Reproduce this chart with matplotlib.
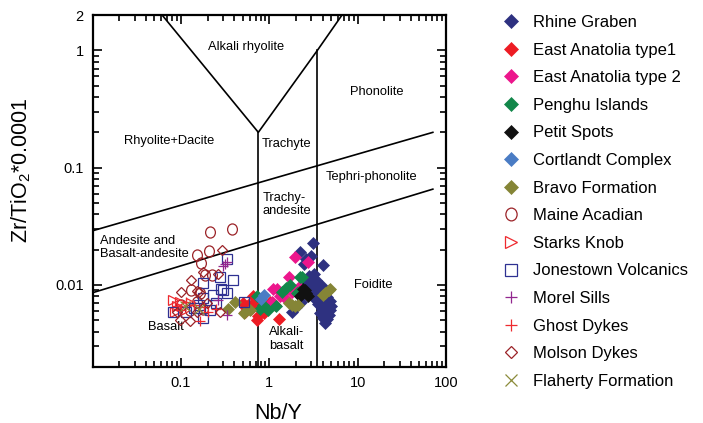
import numpy as np
import matplotlib
matplotlib.use("Agg")
import matplotlib.pyplot as plt
from matplotlib.path import Path
from matplotlib.ticker import FixedLocator, LogLocator, NullFormatter, FixedFormatter

plt.rcParams['font.family'] = ['Liberation Sans', 'DejaVu Sans']
plt.rcParams['mathtext.fontset'] = 'custom'
plt.rcParams['mathtext.rm'] = 'Liberation Sans'
plt.rcParams['mathtext.it'] = 'Liberation Sans:italic'
plt.rcParams['mathtext.default'] = 'regular'

# ---------------- data (Nb/Y, Zr/TiO2*0.0001) ----------------
rhine_x = [3.1, 2.2, 3.0, 2.45, 4.1, 2.6, 2.8, 3.2, 2.5, 3.4, 3.0, 2.7, 3.6, 3.9, 3.3, 2.9, 3.7,
           4.2, 3.1, 3.5, 4.0, 4.5, 3.3, 3.8, 4.3, 4.8, 3.6, 4.1, 4.6, 5.0, 3.9, 4.4, 4.9, 3.7,
           4.2, 4.7, 4.0, 4.5, 4.3, 2.0, 1.8, 2.3, 3.4]
rhine_y = [0.023, 0.019, 0.0175, 0.0152, 0.0148, 0.0165, 0.012, 0.0125, 0.011, 0.011, 0.0105,
           0.0098, 0.0102, 0.0098, 0.0095, 0.0088, 0.009, 0.0088, 0.0082, 0.0083, 0.0082, 0.0079,
           0.0076, 0.0075, 0.0074, 0.0073, 0.0069, 0.0068, 0.0067, 0.0066, 0.0063, 0.0062, 0.0061,
           0.0058, 0.0057, 0.0056, 0.0052, 0.0051, 0.0047, 0.0065, 0.0059, 0.0072, 0.0092]

ea1_x = [0.58, 0.53, 0.72, 0.86, 1.3, 1.02, 0.66, 0.69, 0.6, 0.75, 0.5, 0.62, 0.8, 1.15, 0.55]
ea1_y = [0.0068, 0.0059, 0.005, 0.0058, 0.0051, 0.0072, 0.0081, 0.0072, 0.0066, 0.0054, 0.007,
         0.0062, 0.0066, 0.0068, 0.0064]

ea2_x = [1.96, 2.77, 1.65, 1.11, 1.32, 2.14, 1.11, 1.21, 1.44, 1.07, 1.5, 1.8]
ea2_y = [0.0174, 0.0157, 0.0117, 0.0092, 0.0081, 0.0097, 0.007, 0.0093, 0.0085, 0.0072, 0.0078,
         0.0088]

penghu_x = [2.33, 1.72, 1.38, 0.72, 0.97, 0.78, 2.05, 2.23, 2.14, 0.85, 1.2, 1.55]
penghu_y = [0.0117, 0.010, 0.0088, 0.0081, 0.0061, 0.0063, 0.0085, 0.0117, 0.0088, 0.0068,
            0.0066, 0.0094]

petit_x = [2.55, 2.23, 2.77, 2.4, 2.6]
petit_y = [0.009, 0.0081, 0.0081, 0.0093, 0.0085]

cort_x = [0.86, 0.8]
cort_y = [0.0082, 0.0076]

bravo_x = [0.34, 0.407, 0.51, 1.65, 1.96, 4.3, 4.9, 4.7, 4.1, 1.8, 2.1, 0.6]
bravo_y = [0.0063, 0.0072, 0.0058, 0.0070, 0.0066, 0.0085, 0.0093, 0.0091, 0.0082, 0.0068,
           0.0068, 0.0061]

maine_x = [0.212, 0.38, 0.152, 0.21, 0.17, 0.186, 0.226, 0.13, 0.163, 0.15, 0.1, 0.126, 0.176]
maine_y = [0.0285, 0.030, 0.018, 0.0193, 0.0153, 0.0122, 0.0122, 0.0091, 0.0085, 0.0072, 0.0068,
           0.0061, 0.0063]

starks_x = [0.082, 0.097, 0.085, 0.11, 0.13, 0.09]
starks_y = [0.0075, 0.0072, 0.0059, 0.0061, 0.0070, 0.0066]

jones_x = [0.335, 0.275, 0.39, 0.175, 0.28, 0.33, 0.23, 0.177, 0.51, 0.212, 0.115, 0.177, 0.082,
           0.3, 0.25, 0.16, 0.14]
jones_y = [0.0168, 0.0117, 0.011, 0.0105, 0.0093, 0.0085, 0.0082, 0.0078, 0.0072, 0.0061, 0.0059,
           0.0052, 0.0059, 0.0090, 0.0070, 0.0068, 0.0064]

morel_x = [0.335, 0.3, 0.33, 0.314, 0.26]
morel_y = [0.0156, 0.0144, 0.0056, 0.0150, 0.0075]

ghost_x = [0.163, 0.2, 0.115, 0.089, 0.25, 0.14, 0.18, 0.1]
ghost_y = [0.0049, 0.0059, 0.0072, 0.0066, 0.0063, 0.0068, 0.0065, 0.0061]

molson_x = [0.29, 0.128, 0.10, 0.16, 0.089, 0.126, 0.097, 0.15, 0.195, 0.275, 0.177, 0.26, 0.15]
molson_y = [0.020, 0.011, 0.0087, 0.0087, 0.0059, 0.0049, 0.0050, 0.0059, 0.0070, 0.0059, 0.0128,
            0.0124, 0.0089]

flaherty_x = [0.11, 0.16]
flaherty_y = [0.0066, 0.0063]

x_ticks = [0.1, 1, 10, 100]
x_tick_labels = ['0.1', '1', '10', '100']
y_ticks = [0.01, 0.1, 1, 2]
y_tick_labels = ['0.01', '0.1', '1', '2']

# classification boundaries (Pearce 1996)
boundaries = [
    ([0.061, 0.75, 3.5, 6.65], [2, 0.2, 1, 2]),
    ([0.75, 0.75], [0.2, 0.002]),
    ([3.5, 3.5], [1, 0.002]),
    ([0.01, 71], [0.029, 0.2]),
    ([0.01, 71], [0.0086, 0.0656]),
]

field_labels = [
    ('Alkali rhyolite', 0.54, 1.07, 'center'),
    ('Phonolite', 16.6, 0.44, 'center'),
    ('Rhyolite+Dacite', 0.074, 0.169, 'center'),
    ('Trachyte', 1.58, 0.16, 'center'),
    ('Tephri-phonolite', 14.2, 0.0835, 'center'),
    ('Trachy-\nandesite', 0.83, 0.0486, 'left'),
    ('Andesite and\nBasalt-andesite', 0.0121, 0.021, 'left'),
    ('Basalt', 0.0665, 0.00442, 'center'),
    ('Alkali-\nbasalt', 1.55, 0.00347, 'center'),
    ('Foidite', 15.2, 0.0100, 'center'),
]

circ = Path.unit_circle()
ellipse = Path(circ.vertices * np.array([0.88, 1.0]), circ.codes)

series = [
    ('Rhine Graben', rhine_x, rhine_y, dict(marker='D', color='#2E3180', filled=True)),
    ('East Anatolia type1', ea1_x, ea1_y, dict(marker='D', color='#ED1C24', filled=True)),
    ('East Anatolia type 2', ea2_x, ea2_y, dict(marker='D', color='#EC168C', filled=True)),
    ('Penghu Islands', penghu_x, penghu_y, dict(marker='D', color='#12874A', filled=True)),
    ('Petit Spots', petit_x, petit_y, dict(marker='D', color='#111111', filled=True)),
    ('Cortlandt Complex', cort_x, cort_y, dict(marker='D', color='#4A7CC4', filled=True)),
    ('Bravo Formation', bravo_x, bravo_y, dict(marker='D', color='#858536', filled=True)),
    ('Maine Acadian', maine_x, maine_y, dict(marker=ellipse, color='#9B2227', filled=False)),
    ('Starks Knob', starks_x, starks_y, dict(marker='>', color='#EE2A2F', filled=False)),
    ('Jonestown Volcanics', jones_x, jones_y, dict(marker='s', color='#2E3192', filled=False)),
    ('Morel Sills', morel_x, morel_y, dict(marker='+', color='#92278F', filled=False)),
    ('Ghost Dykes', ghost_x, ghost_y, dict(marker='+', color='#EE2A2F', filled=False)),
    ('Molson Dykes', molson_x, molson_y, dict(marker='D', color='#9B2227', filled=False)),
    ('Flaherty Formation', flaherty_x, flaherty_y, dict(marker='x', color='#8B8B3A', filled=False)),
]
open_sizes = {'+': 7.5, 'x': 7.5, 'D': 5.4, 's': 7.0, '>': 7.5}

fig = plt.figure(figsize=(7.03, 4.23), dpi=100)
ax = fig.add_axes([0.1319, 0.1324, 0.5025, 0.8321])
ax.set_xscale('log')
ax.set_yscale('log')
ax.set_xlim(0.01, 100)
ax.set_ylim(0.002, 2)

for bx, by in boundaries:
    ax.plot(bx, by, color='black', lw=1.2, zorder=1)

for txt, tx, ty, ha in field_labels:
    ax.text(tx, ty, txt, fontsize=9.3, ha=ha, va='center', linespacing=1.15, zorder=2)

handles = []
for name, xs, ys, st in series:
    m = st['marker']
    if st['filled']:
        h, = ax.plot(xs, ys, ls='none', marker=m, ms=6.2, mfc=st['color'], mec=st['color'],
                     mew=0.5, label=name, zorder=3)
    else:
        ms = open_sizes.get(m, 8.0) if isinstance(m, str) else 8.0
        h, = ax.plot(xs, ys, ls='none', marker=m, ms=ms, mfc='none', mec=st['color'],
                     mew=0.9, label=name, zorder=3)
    handles.append(h)

ax.xaxis.set_major_locator(FixedLocator(x_ticks))
ax.xaxis.set_major_formatter(FixedFormatter(x_tick_labels))
ax.yaxis.set_major_locator(FixedLocator(y_ticks))
ax.yaxis.set_major_formatter(FixedFormatter(y_tick_labels))
ax.xaxis.set_minor_locator(LogLocator(base=10, subs=np.arange(2, 10)))
ax.yaxis.set_minor_locator(LogLocator(base=10, subs=np.arange(2, 10)))
ax.xaxis.set_minor_formatter(NullFormatter())
ax.yaxis.set_minor_formatter(NullFormatter())
ax.tick_params(which='both', direction='in', top=True, right=True, labelsize=10.5, width=1.2)
ax.tick_params(which='major', length=6.5, pad=6.5)
ax.tick_params(which='minor', length=4.0)
for s in ax.spines.values():
    s.set_linewidth(1.6)

ax.set_xlabel('Nb/Y', fontsize=15.5)
ax.set_ylabel('Zr/TiO$_2$*0.0001', fontsize=15.5)
ax.xaxis.set_label_coords(0.5245, -0.102)
ax.yaxis.set_label_coords(-0.169, 0.558)

fig.legend(handles=handles, loc='upper left', bbox_to_anchor=(0.7147, 0.9644), frameon=False,
           fontsize=12, handlelength=1.0, handletextpad=0.86, labelspacing=0.756,
           borderpad=0, borderaxespad=0, markerscale=1.15, numpoints=1)

fig.savefig('out.png', dpi=100)
